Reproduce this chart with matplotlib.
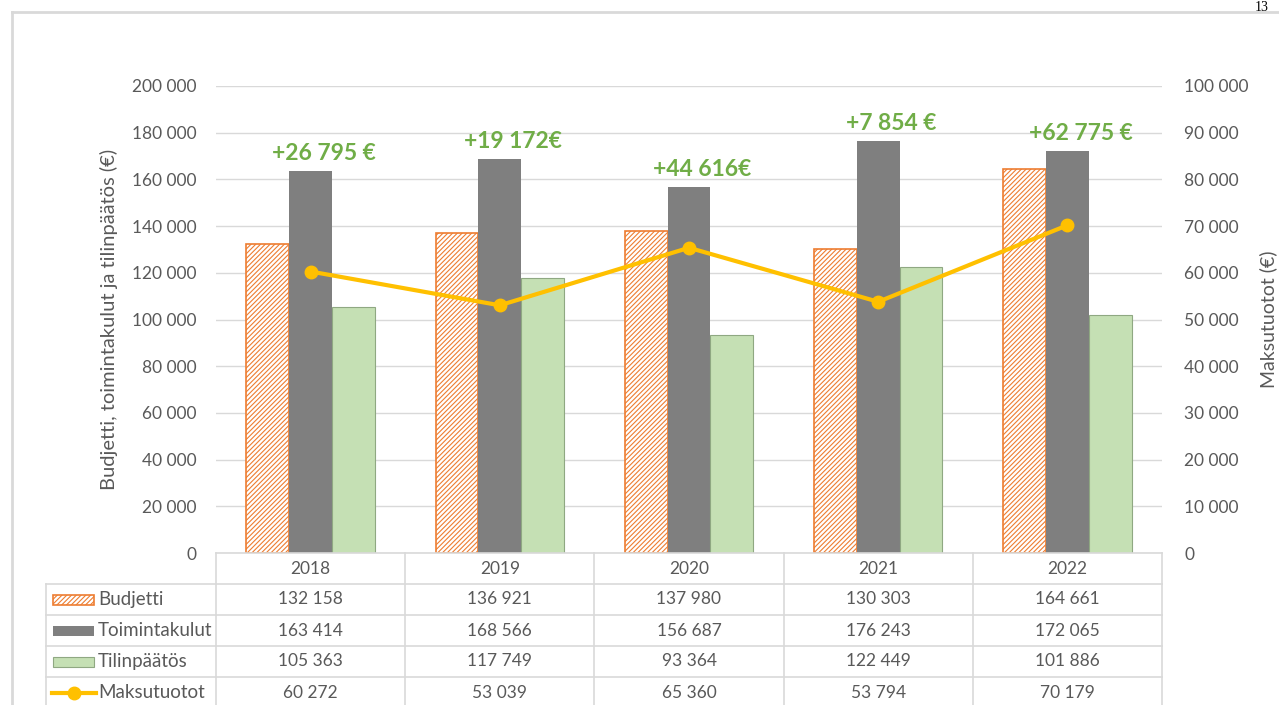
import matplotlib
matplotlib.use("Agg")
import matplotlib.pyplot as plt
import matplotlib.transforms as mtransforms
from matplotlib.patches import Rectangle
from matplotlib.lines import Line2D
import numpy as np

plt.rcParams["font.family"] = ["Lato", "DejaVu Sans"]
plt.rcParams["hatch.linewidth"] = 0.8

years = ["2018", "2019", "2020", "2021", "2022"]
budjetti = [132158, 136921, 137980, 130303, 164661]
toimintakulut = [163414, 168566, 156687, 176243, 172065]
tilinpaatos = [105363, 117749, 93364, 122449, 101886]
maksutuotot = [60272, 53039, 65360, 53794, 70179]
erotus = ["+26 795 €", "+19 172€", "+44 616€", "+7 854 €", "+62 775 €"]

W, H = 1279, 705
TXT = "#595959"
GRID = "#D9D9D9"
ORANGE = "#ED7D31"
GREY = "#7F7F7F"
GREEN = "#C5E0B4"
GREEN_EDGE = "#8FA882"
YELLOW = "#FFC000"
LABEL_GREEN = "#70AD47"


def fmt(v):
    return f"{int(v):,}".replace(",", " ")


fig = plt.figure(figsize=(W / 100, H / 100), dpi=100)
ax = fig.add_axes([216 / W, 1 - 553 / H, 946 / W, 467 / H])
ax2 = ax.twinx()

x = np.arange(len(years))
w = 0.226
ax.bar(x - w, budjetti, w, facecolor="white", edgecolor=ORANGE, hatch="///////", linewidth=1.2, zorder=2)
ax.bar(x, toimintakulut, w, color=GREY, zorder=2)
ax.bar(x + w, tilinpaatos, w, facecolor=GREEN, edgecolor=GREEN_EDGE, linewidth=0.8, zorder=2)

ax2.plot(x, maksutuotot, color=YELLOW, linewidth=3, marker="o", markersize=9, zorder=3)

for i, s in enumerate(erotus):
    ax.text(i + 0.07, toimintakulut[i] + 7500, s, ha="center", va="center",
            color=LABEL_GREEN, fontsize=16.5, fontweight="bold", zorder=4)

ax.set_xlim(-0.5, len(years) - 0.5)
ax.set_ylim(0, 200000)
ax2.set_ylim(0, 100000)
ax.set_yticks(np.arange(0, 200001, 20000))
ax2.set_yticks(np.arange(0, 100001, 10000))
ax.set_yticklabels([fmt(v) for v in ax.get_yticks()])
ax2.set_yticklabels([fmt(v) for v in ax2.get_yticks()])
ax.set_xticks([])
ax.grid(axis="y", color=GRID, linewidth=1, zorder=0)
ax.set_axisbelow(True)
for a in (ax, ax2):
    for sp in a.spines.values():
        sp.set_visible(False)
ax.tick_params(axis="y", length=0, pad=14, labelsize=12.5, labelcolor=TXT)
ax2.tick_params(axis="y", length=0, pad=16, labelsize=12.5, labelcolor=TXT)

ax.set_ylabel("Budjetti, toimintakulut ja tilinpäätös (€)", fontsize=14.5, color=TXT)
ax.yaxis.set_label_coords(-0.104, 0.5)
ax2.set_ylabel("Maksutuotot (€)", fontsize=14, color=TXT)
ax2.yaxis.set_label_coords(1.103, 0.5)

# data table below the plot
tr = mtransforms.blended_transform_factory(ax.transData, fig.transFigure)
ftr = fig.transFigure


def fy(py):
    return 1 - py / H


rows = [553, 584, 615, 646, 677, 708]
xl, xr = -0.5, len(years) - 0.5
left_px = 46 / W
# horizontal lines
fig.add_artist(Line2D([xl, xr], [fy(rows[0])] * 2, transform=tr, color=GRID, lw=1.2))
for r in rows[1:]:
    fig.add_artist(Line2D([left_px, 216 / W], [fy(r)] * 2, transform=ftr, color=GRID, lw=1.2))
    fig.add_artist(Line2D([xl, xr], [fy(r)] * 2, transform=tr, color=GRID, lw=1.2))
# vertical lines
for b in np.arange(len(years) + 1) - 0.5:
    fig.add_artist(Line2D([b, b], [fy(rows[0]), fy(rows[-1])], transform=tr, color=GRID, lw=1.2))
fig.add_artist(Line2D([left_px, left_px], [fy(rows[1]), fy(rows[-1])], transform=ftr, color=GRID, lw=1.2))

for i, yr in enumerate(years):
    fig.text(i, fy((rows[0] + rows[1]) / 2), yr, transform=tr, ha="center", va="center", fontsize=12.5, color=TXT)

series = [budjetti, toimintakulut, tilinpaatos, maksutuotot]
names = ["Budjetti", "Toimintakulut", "Tilinpäätös", "Maksutuotot"]
for k, (nm, vals) in enumerate(zip(names, series)):
    yc = fy((rows[k + 1] + rows[k + 2]) / 2)
    for i, v in enumerate(vals):
        fig.text(i, yc, fmt(v), transform=tr, ha="center", va="center", fontsize=12.5, color=TXT)
    fig.text(98 / W, yc, nm, ha="left", va="center", fontsize=13.5, color=TXT)

# legend keys
kx, kw, kh = 53 / W, 41 / W, 10 / H
yc = fy((rows[1] + rows[2]) / 2)
fig.add_artist(Rectangle((kx, yc - kh / 2), kw, kh, transform=ftr, facecolor="white",
                         edgecolor=ORANGE, hatch="///////", lw=1.2))
yc = fy((rows[2] + rows[3]) / 2)
fig.add_artist(Rectangle((kx, yc - kh / 2), kw, kh, transform=ftr, facecolor=GREY, edgecolor="none"))
yc = fy((rows[3] + rows[4]) / 2)
fig.add_artist(Rectangle((kx, yc - kh / 2), kw, kh, transform=ftr, facecolor=GREEN,
                         edgecolor=GREEN_EDGE, lw=0.8))
yc = fy((rows[4] + rows[5]) / 2)
fig.add_artist(Line2D([52 / W, 96 / W], [yc, yc], transform=ftr, color=YELLOW, lw=3))
fig.add_artist(Line2D([74 / W], [yc], transform=ftr, color=YELLOW, marker="o", markersize=9, lw=0))

# page frame and page number
fig.add_artist(Line2D([12 / W, 1], [fy(12)] * 2, transform=ftr, color="#D9D9D9", lw=2))
fig.add_artist(Line2D([12 / W, 12 / W], [fy(12), 0], transform=ftr, color="#D9D9D9", lw=2))
fig.text(1262 / W, fy(1), "13", ha="center", va="top", fontsize=10, family="Liberation Serif")

fig.savefig("out.png", dpi=100)
